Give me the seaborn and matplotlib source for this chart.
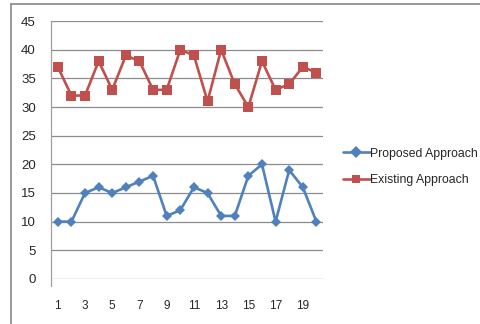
import matplotlib
matplotlib.use("Agg")
import matplotlib.pyplot as plt
from matplotlib.lines import Line2D
import seaborn as sns
import numpy as np
import pandas as pd

# values
runs = list(range(1, 21))
proposed = [10, 10, 15, 16, 15, 16, 17, 18, 11, 12, 16, 15, 11, 11, 18, 20, 10, 19, 16, 10]
existing = [37, 32, 32, 38, 33, 39, 38, 33, 33, 40, 39, 31, 40, 34, 30, 38, 33, 34, 37, 36]
y_ticks = [0, 5, 10, 15, 20, 25, 30, 35, 40, 45]

df = pd.DataFrame({
    "run": runs * 2,
    "value": proposed + existing,
    "series": ["Proposed Approach"] * len(runs) + ["Existing Approach"] * len(runs),
})

sns.set_style("white")
plt.rcParams["font.family"] = ["Liberation Sans", "DejaVu Sans"]

fig = plt.figure(figsize=(4.81, 3.24), dpi=100)
ax = fig.add_axes([0.106, 0.139, 0.566, 0.796])

palette = {"Proposed Approach": "#4F81BD", "Existing Approach": "#C0504D"}
sns.lineplot(data=df, x="run", y="value", hue="series", style="series",
             markers={"Proposed Approach": "D", "Existing Approach": "s"},
             dashes=False, palette=palette, linewidth=1.9, ax=ax,
             markeredgewidth=0)
for ln in ax.lines:
    if ln.get_marker() == "D":
        ln.set_markersize(5.5)
    else:
        ln.set_markersize(7.5)

ax.set_xlim(0.5, 20.5)
ax.set_ylim(0, 45)
ax.set_yticks(y_ticks)
ax.yaxis.grid(True, color="#8c8c8c", linewidth=0.9)
ax.set_axisbelow(True)
ax.set_xlabel("")
ax.set_ylabel("")

ax.set_xticks(np.arange(0.5, 21, 1), minor=True)
ax.set_xticks(runs[::2])
ax.tick_params(axis="x", which="minor", length=3, color="#b0b0b0", direction="out", pad=0)
ax.tick_params(axis="x", which="major", length=0, pad=15, labelsize=8.5)
ax.tick_params(axis="y", length=0, labelsize=9.5, pad=11)

for s in ["top", "right", "bottom"]:
    ax.spines[s].set_visible(False)
ax.spines["left"].set_color("#a0a0a0")
ax.spines["left"].set_linewidth(0.9)
ax.spines["left"].set_bounds(-1.2, 45)

leg = ax.get_legend()
handles = leg.legend_handles
labels = [t.get_text() for t in leg.get_texts()]
leg.remove()
fig.legend(handles, labels, loc="center left", bbox_to_anchor=(0.69, 0.485),
           frameon=False, fontsize=8.8, handlelength=2.2, handletextpad=0.05,
           labelspacing=1.2)

# outer chart border (top and left only)
fig.add_artist(Line2D([11 / 481, 1], [1 - 4 / 324, 1 - 4 / 324], color="#888888", linewidth=1.2))
fig.add_artist(Line2D([11 / 481, 11 / 481], [0, 1 - 4 / 324], color="#888888", linewidth=1.2))

fig.savefig("out.png", dpi=100)
